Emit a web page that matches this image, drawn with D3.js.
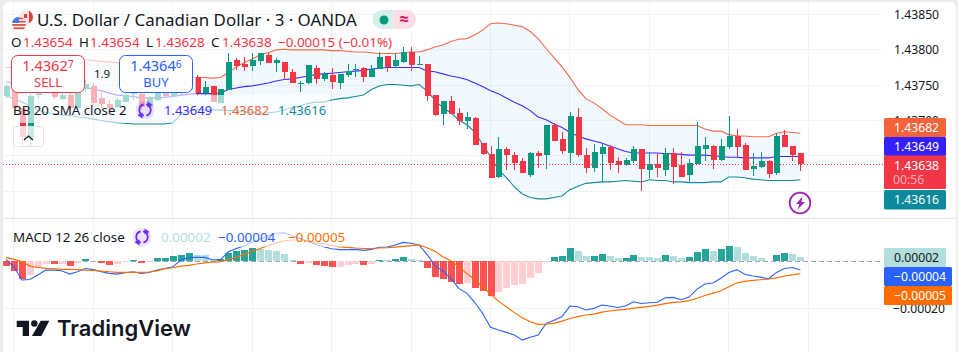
<!DOCTYPE html>
<html>
<head>
<meta charset="utf-8">
<script src="https://cdn.jsdelivr.net/npm/d3@7"></script>
<style>
  html, body { margin: 0; padding: 0; background: #ececec; overflow: hidden; }
  text { font-family: "Noto Sans", "Open Sans", sans-serif; fill: #131722; }
</style>
</head>
<body>
<div id="chart"></div>
<script>
// candles, oldest first
const open = [
  1.43735,1.43746,1.43717,1.43676,1.43735,1.43752,1.43744,1.43731,1.43736,1.43718,
  1.43744,1.43749,1.43732,1.43724,1.43719,1.43726,1.43738,1.43738,1.43719,1.43729,
  1.43739,1.43735,1.43749,1.43744,1.43762,1.43739,1.43749,1.43725,1.43744,1.43785,
  1.43780,1.43776,1.43783,1.43793,1.43782,1.43783,1.43769,1.43752,1.43752,1.43775,
  1.43759,1.43765,1.43753,1.43765,1.43772,1.43775,1.43762,1.43773,1.43792,1.43776,
  1.43783,1.43797,1.43779,1.43780,1.43736,1.43710,1.43728,1.43711,1.43700,1.43704,
  1.43668,1.43653,1.43619,1.43659,1.43651,1.43642,1.43623,1.43654,1.43651,1.43693,
  1.43674,1.43654,1.43705,1.43651,1.43633,1.43653,1.43663,1.43642,1.43637,1.43643,
  1.43659,1.43630,1.43639,1.43630,1.43654,1.43637,1.43623,1.43639,1.43661,1.43664,
  1.43644,1.43663,1.43678,1.43666,1.43632,1.43633,1.43643,1.43625,1.43680,1.43664,1.43654];
const high = [
  1.43752,1.43749,1.43718,1.43738,1.43746,1.43755,1.43746,1.43741,1.43741,1.43758,
  1.43758,1.43753,1.43739,1.43729,1.43732,1.43739,1.43746,1.43741,1.43734,1.43742,
  1.43744,1.43744,1.43752,1.43758,1.43765,1.43756,1.43749,1.43745,1.43795,1.43789,
  1.43790,1.43795,1.43796,1.43796,1.43789,1.43783,1.43773,1.43756,1.43778,1.43778,
  1.43769,1.43775,1.43766,1.43780,1.43780,1.43776,1.43779,1.43797,1.43792,1.43796,
  1.43804,1.43804,1.43792,1.43780,1.43736,1.43728,1.43734,1.43717,1.43712,1.43705,
  1.43668,1.43664,1.43677,1.43663,1.43656,1.43647,1.43656,1.43657,1.43694,1.43697,
  1.43684,1.43712,1.43717,1.43661,1.43667,1.43667,1.43666,1.43649,1.43647,1.43664,
  1.43659,1.43656,1.43654,1.43661,1.43661,1.43656,1.43646,1.43698,1.43676,1.43666,
  1.43674,1.43707,1.43688,1.43668,1.43654,1.43656,1.43644,1.43683,1.43687,1.43664,1.43654];
const low = [
  1.43732,1.43715,1.43666,1.43664,1.43732,1.43739,1.43731,1.43729,1.43715,1.43718,
  1.43741,1.43722,1.43718,1.43715,1.43718,1.43726,1.43729,1.43715,1.43718,1.43728,
  1.43732,1.43734,1.43738,1.43741,1.43734,1.43734,1.43726,1.43725,1.43744,1.43772,
  1.43770,1.43770,1.43779,1.43782,1.43768,1.43758,1.43753,1.43741,1.43751,1.43752,
  1.43756,1.43745,1.43745,1.43761,1.43762,1.43755,1.43762,1.43773,1.43769,1.43775,
  1.43782,1.43770,1.43778,1.43728,1.43707,1.43694,1.43710,1.43694,1.43688,1.43666,
  1.43651,1.43619,1.43619,1.43630,1.43630,1.43625,1.43620,1.43633,1.43632,1.43671,
  1.43653,1.43640,1.43649,1.43626,1.43627,1.43613,1.43630,1.43625,1.43636,1.43640,
  1.43600,1.43619,1.43620,1.43622,1.43610,1.43620,1.43612,1.43639,1.43642,1.43632,
  1.43642,1.43660,1.43649,1.43630,1.43622,1.43633,1.43619,1.43623,1.43663,1.43643,1.43628];
const close = [
  1.43749,1.43717,1.43676,1.43735,1.43744,1.43741,1.43732,1.43736,1.43718,1.43739,
  1.43751,1.43725,1.43724,1.43718,1.43729,1.43736,1.43739,1.43719,1.43732,1.43739,
  1.43735,1.43739,1.43741,1.43752,1.43739,1.43748,1.43726,1.43745,1.43783,1.43776,
  1.43776,1.43785,1.43795,1.43782,1.43786,1.43769,1.43753,1.43753,1.43778,1.43759,
  1.43766,1.43755,1.43766,1.43770,1.43773,1.43762,1.43773,1.43790,1.43776,1.43785,
  1.43797,1.43778,1.43780,1.43735,1.43707,1.43728,1.43710,1.43700,1.43705,1.43666,
  1.43653,1.43619,1.43659,1.43650,1.43640,1.43625,1.43654,1.43650,1.43694,1.43671,
  1.43657,1.43707,1.43651,1.43633,1.43656,1.43663,1.43640,1.43636,1.43644,1.43660,
  1.43630,1.43639,1.43634,1.43654,1.43634,1.43620,1.43640,1.43664,1.43666,1.43644,
  1.43664,1.43678,1.43663,1.43630,1.43636,1.43642,1.43625,1.43678,1.43663,1.43651,1.43638];

// bollinger bands
const bbUpper = [
  1.43775,1.43775,1.43778,1.43780,1.43783,1.43785,1.43785,1.43786,1.43786,1.43786,
  1.43786,1.43785,1.43784,1.43783,1.43782,1.43782,1.43780,1.43779,1.43776,1.43773,
  1.43770,1.43768,1.43765,1.43762,1.43761,1.43761,1.43760,1.43761,1.43768,1.43776,
  1.43782,1.43787,1.43793,1.43796,1.43800,1.43801,1.43800,1.43800,1.43800,1.43800,
  1.43800,1.43799,1.43799,1.43798,1.43797,1.43797,1.43796,1.43795,1.43795,1.43795,
  1.43796,1.43797,1.43797,1.43800,1.43804,1.43807,1.43812,1.43815,1.43816,1.43821,
  1.43828,1.43837,1.43838,1.43837,1.43835,1.43833,1.43826,1.43816,1.43802,1.43789,
  1.43776,1.43761,1.43744,1.43731,1.43725,1.43717,1.43708,1.43701,1.43694,1.43694,
  1.43694,1.43693,1.43693,1.43693,1.43693,1.43693,1.43693,1.43693,1.43688,1.43685,
  1.43685,1.43680,1.43678,1.43678,1.43677,1.43677,1.43677,1.43682,1.43684,1.43683,1.43682];
const bbBasis = [
  1.43755,1.43753,1.43752,1.43751,1.43750,1.43749,1.43748,1.43748,1.43747,1.43746,
  1.43746,1.43745,1.43742,1.43739,1.43736,1.43735,1.43734,1.43732,1.43732,1.43732,
  1.43733,1.43734,1.43736,1.43737,1.43738,1.43738,1.43738,1.43739,1.43744,1.43746,
  1.43748,1.43749,1.43751,1.43753,1.43756,1.43758,1.43759,1.43761,1.43763,1.43765,
  1.43766,1.43767,1.43768,1.43769,1.43770,1.43771,1.43773,1.43774,1.43775,1.43775,
  1.43775,1.43775,1.43775,1.43770,1.43769,1.43766,1.43763,1.43761,1.43758,1.43753,
  1.43748,1.43742,1.43738,1.43732,1.43726,1.43721,1.43714,1.43705,1.43701,1.43695,
  1.43690,1.43683,1.43678,1.43674,1.43671,1.43668,1.43664,1.43660,1.43656,1.43654,
  1.43654,1.43654,1.43654,1.43653,1.43653,1.43652,1.43651,1.43651,1.43651,1.43650,
  1.43649,1.43648,1.43648,1.43647,1.43647,1.43647,1.43647,1.43649,1.43649,1.43649,1.43649];
const bbLower = [
  1.43735,1.43731,1.43726,1.43721,1.43715,1.43711,1.43710,1.43708,1.43707,1.43705,
  1.43704,1.43702,1.43700,1.43698,1.43697,1.43696,1.43695,1.43695,1.43695,1.43695,
  1.43695,1.43697,1.43708,1.43714,1.43715,1.43715,1.43715,1.43715,1.43714,1.43714,
  1.43712,1.43711,1.43710,1.43711,1.43712,1.43715,1.43718,1.43721,1.43724,1.43726,
  1.43726,1.43729,1.43731,1.43732,1.43734,1.43736,1.43744,1.43749,1.43751,1.43751,
  1.43750,1.43749,1.43751,1.43742,1.43729,1.43718,1.43711,1.43701,1.43694,1.43684,
  1.43666,1.43649,1.43630,1.43619,1.43606,1.43596,1.43591,1.43589,1.43589,1.43591,
  1.43593,1.43602,1.43607,1.43611,1.43612,1.43613,1.43613,1.43614,1.43615,1.43614,
  1.43613,1.43616,1.43615,1.43615,1.43613,1.43613,1.43612,1.43612,1.43612,1.43613,
  1.43613,1.43620,1.43620,1.43619,1.43617,1.43616,1.43615,1.43615,1.43615,1.43615,1.43616];

// macd pane, all in units of 0.00001
const macdHist = [
  -2,-4,-7.5,-5.8,-3,-.9,-1.3,-.9,-2,-.7,
  1,.2,-.7,-1.6,-1.1,-.4,.6,-.7,-.3,1.4,
  1.4,2.1,2.7,3.5,2.7,2.6,.8,.9,3.7,4.5,
  4.8,5.5,5.45,5,4.5,3.1,.6,-1.1,-.6,-1.6,
  -2,-2.4,-2.3,-1.6,-1.1,-1.6,-1.1,.6,.5,1,
  1.8,1,.6,-2.8,-6.7,-7.5,-8.7,-9.6,-9.2,-11.3,
  -12.6,-14.8,-13,-11.3,-10,-9.6,-7.1,-5,-.3,1.8,
  2.3,5.7,4.4,2.3,2.4,3.1,2.3,1.4,1.5,2.7,
  1.8,1.7,1.4,2.7,2.3,1.4,1.8,4,5.2,4.4,
  5.2,6.5,6.1,3.5,2.3,1.4,.1,2.7,3.5,3.1,1.8];
const macdLine = [
  .85,-2.3,-7.9,-7.7,-5.8,-3.7,-3.7,-4,-5.4,-4.4,
  -3,-3.5,-4.4,-5.1,-5.4,-4.8,-4.4,-5.1,-4.7,-3.7,
  -3,-2.3,.6,1.6,1.7,1.7,.7,.7,4.1,5.5,
  6.7,8.1,9.5,10.8,12,12.2,10.9,9.8,8.4,7.2,
  6.2,5.4,5,5,5.1,4.7,5.1,6,6.1,7,
  8.1,7.7,7,3,-1.8,-4,-7.2,-11.5,-13.5,-17.4,
  -22.1,-28,-29.2,-30.2,-31.3,-33.5,-32.3,-31.3,-26.4,-25,
  -23.5,-19,-19.3,-20.7,-20,-18.6,-19,-19.6,-19,-17.2,
  -17.9,-17.6,-17.4,-15.5,-15.3,-16.3,-15.2,-11.8,-9.6,-9.2,
  -7.2,-4.7,-3.5,-5.5,-6.2,-6.7,-7.4,-4.7,-3,-2.6,-3.7];
const macdSignal = [
  1.7,.85,-.1,-2,-2.6,-3,-3.1,-3.4,-3.4,-3.5,
  -3.7,-3.8,-4.1,-4.4,-4.7,-4.7,-4.7,-4.7,-4.5,-4,
  -3.1,-2.7,-2,-1.7,-1.1,-.6,-.3,-.1,.7,1.7,
  3,4.3,5.5,6.7,7.9,8.8,9.1,9.1,8.7,7.9,
  7.5,6.8,6.2,6,5.7,5.5,5.5,5.7,5.8,6.1,
  6.4,6.7,7,5.8,4.3,2,.3,-2.3,-5.1,-7.7,
  -10.8,-14,-16.9,-19.3,-21.8,-24,-25.7,-26.8,-26.7,-26.4,
  -25.4,-24.3,-23.5,-22.8,-22.4,-21.6,-21.1,-20.7,-20.4,-19.9,
  -19.6,-19.1,-18.6,-18,-17.4,-17.2,-16.7,-15.7,-14.5,-13.5,
  -12.5,-10.8,-9.2,-8.5,-8.1,-7.8,-7.5,-7,-6.2,-5.7,-5.2];

const priceTicks = [1.4385, 1.438, 1.4375, 1.437, 1.4365, 1.436];
const timeTicks = [1, 11, 21, 31, 41, 51, 61, 71, 81, 91, 101];

const W = 958, H = 352, plotR = 883, paneY = 218;
const up = "#089981", down = "#F23645";
const indices = d3.range(close.length);

const svg = d3.select("#chart").append("svg").attr("width", W).attr("height", H).style("display", "block");
svg.append("rect").attr("x", 3).attr("y", 2).attr("width", 953).attr("height", H + 20).attr("rx", 6).attr("fill", "#fff");

const x = d3.scaleLinear().domain([0, 100]).range([6, 800.3]);
const y = d3.scaleLinear().domain([1.4385, 1.436]).range([14.6, 191.1]);
const yM = d3.scaleLinear().domain([0, -20]).range([261.4, 308.4]);

function label(g, tx, ty, str, color, size, anchor) {
    return g.append("text").attr("x", tx).attr("y", ty)
        .attr("font-size", size || 13.3).attr("text-anchor", anchor || "start")
        .style("fill", color || "#131722").text(str);
}

// grid
const grid = svg.append("g").attr("stroke", "#f0f3fa").attr("stroke-width", 1).attr("shape-rendering", "crispEdges");
grid.selectAll("line.v").data(timeTicks).join("line").attr("class", "v")
    .attr("x1", d => x(d)).attr("x2", d => x(d)).attr("y1", 2).attr("y2", H);
grid.selectAll("line.h").data(priceTicks).join("line").attr("class", "h")
    .attr("x1", 3).attr("x2", plotR).attr("y1", d => y(d)).attr("y2", d => y(d));
grid.append("line").attr("x1", 3).attr("x2", plotR).attr("y1", yM(-20)).attr("y2", yM(-20));
svg.append("line").attr("x1", 3).attr("x2", 956).attr("y1", paneY).attr("y2", paneY)
    .attr("stroke", "#e0e3eb").attr("shape-rendering", "crispEdges");

// bollinger fill and lines
const main = svg.append("g");
main.append("path").datum(indices)
    .attr("fill", "#2196f3").attr("fill-opacity", 0.06)
    .attr("d", d3.area().x(i => x(i)).y0(i => y(bbLower[i])).y1(i => y(bbUpper[i])));
[[bbUpper, "#f7694a"], [bbBasis, "#3a2cff"], [bbLower, "#138a9a"]].forEach(([vals, color]) => {
    main.append("path").datum(indices).attr("fill", "none").attr("stroke", color).attr("stroke-width", 1.1)
        .attr("d", d3.line().x(i => x(i)).y(i => y(vals[i])));
});

// candles
const candle = main.selectAll("g.candle").data(indices).join("g").attr("class", "candle")
    .attr("fill", i => close[i] >= open[i] ? up : down).attr("shape-rendering", "crispEdges");
candle.append("rect").attr("x", i => Math.round(x(i))).attr("width", 1)
    .attr("y", i => y(high[i])).attr("height", i => y(low[i]) - y(high[i]));
candle.append("rect").attr("x", i => Math.round(x(i)) - 2.500).attr("width", 6)
    .attr("y", i => Math.round(y(Math.max(open[i], close[i]))))
    .attr("height", i => Math.max(1, Math.round(Math.abs(y(open[i]) - y(close[i])))));

// last price line
const lastPrice = close[close.length - 1];
main.append("line").attr("x1", 3).attr("x2", plotR).attr("y1", y(lastPrice)).attr("y2", y(lastPrice))
    .attr("stroke", down).attr("stroke-dasharray", "1,2").attr("shape-rendering", "crispEdges");

// macd pane
const macd = svg.append("g");
macd.append("line").attr("x1", 3).attr("x2", plotR).attr("y1", yM(0)).attr("y2", yM(0))
    .attr("stroke", "#a3a6af").attr("stroke-dasharray", "5,3").attr("shape-rendering", "crispEdges");
macd.selectAll("rect").data(indices).join("rect")
    .attr("x", i => Math.round(x(i)) - 3).attr("width", 7)
    .attr("y", i => Math.min(yM(macdHist[i]), yM(0)))
    .attr("height", i => Math.abs(yM(macdHist[i]) - yM(0)))
    .attr("shape-rendering", "crispEdges")
    .attr("fill", i => {
        const v = macdHist[i], prev = i ? macdHist[i - 1] : 0;
        if (v >= 0) return v >= prev ? "#26a69a" : "#b2dfdb";
        return v < prev ? "#ff5252" : "#ffcdd2";
    });
macd.append("path").datum(indices).attr("fill", "none").attr("stroke", "#2962ff").attr("stroke-width", 1.1)
    .attr("d", d3.line().x(i => x(i)).y(i => yM(macdLine[i])));
macd.append("path").datum(indices).attr("fill", "none").attr("stroke", "#ff6d00").attr("stroke-width", 1.2)
    .attr("d", d3.line().x(i => x(i)).y(i => yM(macdSignal[i])));

// white veil the legends put over the plot
const veil = svg.append("g").attr("fill", "#fff").attr("fill-opacity", 0.62);
veil.append("rect").attr("x", 3).attr("y", 50).attr("width", 193).attr("height", 45);
veil.append("rect").attr("x", 3).attr("y", 95).attr("width", 327).attr("height", 28);
veil.append("rect").attr("x", 3).attr("y", 228).attr("width", 340).attr("height", 19);

// price axis
const axisG = svg.append("g").attr("transform", `translate(${plotR},0)`)
    .call(d3.axisRight(y).tickValues(priceTicks.slice(0, 4)).tickSize(0).tickPadding(11).tickFormat(d3.format(".5f")));
const axisM = svg.append("g").attr("transform", `translate(${plotR},0)`)
    .call(d3.axisRight(yM).tickValues([-20]).tickSize(0).tickPadding(10).tickFormat(d => "\u22120.00020"));
[axisG, axisM].forEach(g => {
    g.select(".domain").remove();
    g.selectAll("text").attr("font-size", 12.2).attr("font-family", null).style("fill", "#131722");
});

// price tags on the axis
const tags = [
    [884, 118, 62, 19.5, "#f4633a", "1.43682", "#fff"],
    [884, 137, 62, 19, "#3420ff", "1.43649", "#fff"],
    [884, 155.5, 62, 33.5, down, "1.43638", "#fff"],
    [884, 190, 62, 19.5, "#0b8a9b", "1.43616", "#fff"],
    [884, 248, 62, 19, "#b2dfdb", "0.00002", "#131722"],
    [884, 267, 68, 19, "#2962ff", "\u22120.00004", "#fff"],
    [884, 286, 68, 19, "#ff6d00", "\u22120.00005", "#fff"]
];
const tagG = svg.append("g");
tags.forEach(([tx, ty, tw, th, color, str, ink]) => {
    tagG.append("rect").attr("x", tx).attr("y", ty).attr("width", tw).attr("height", th).attr("rx", 1.5).attr("fill", color);
    label(tagG, tx + 10, ty + 14, str, ink, 12.2);
});
label(tagG, 893, 184, "00:56", "#fbb0b8", 12.2);

// legend header
const legend = svg.append("g");
const defs = svg.append("defs");
defs.append("clipPath").attr("id", "flagCa").append("circle").attr("cx", 26).attr("cy", 17).attr("r", 7);
defs.append("clipPath").attr("id", "flagUs").append("circle").attr("cx", 19).attr("cy", 24).attr("r", 7);
const ca = legend.append("g").attr("clip-path", "url(#flagCa)");
ca.append("rect").attr("x", 19).attr("y", 10).attr("width", 14).attr("height", 14).attr("fill", "#f7e6e4");
ca.append("rect").attr("x", 29).attr("y", 10).attr("width", 4).attr("height", 14).attr("fill", "#e8403a");
ca.append("rect").attr("x", 24).attr("y", 14).attr("width", 3).attr("height", 4).attr("fill", "#e8403a");
const us = legend.append("g").attr("clip-path", "url(#flagUs)");
us.append("circle").attr("cx", 19).attr("cy", 24).attr("r", 7).attr("fill", "#fff");
d3.range(4).forEach(i => us.append("rect").attr("x", 12).attr("y", 17.5 + i * 3.3).attr("width", 14).attr("height", 1.7).attr("fill", "#e8403a"));
us.append("rect").attr("x", 12).attr("y", 17).attr("width", 7).attr("height", 6).attr("fill", "#3c7ff0");

label(legend, 37, 26, "U.S. Dollar / Canadian Dollar \u00b7 3 \u00b7 OANDA", "#131722", 16.9);

// status pill
legend.append("path").attr("d", "M382 10h11v19h-11a9.5 9.5 0 0 1 0-19z").attr("fill", "#d5efeb");
legend.append("path").attr("d", "M393.500 10h13a9.5 9.5 0 0 1 0 19h-13z").attr("fill", "#fbdde6");
legend.append("circle").attr("cx", 384).attr("cy", 20).attr("r", 4.500).attr("fill", up);
label(legend, 404, 25, "\u2248", "#d81b60", 17, "middle").attr("font-weight", 700);

// ohlc row
const ohlc = [[11, "O"], [79, "H"], [146, "L"], [211, "C"]];
const ohlcVals = [[23, "1.43654"], [90, "1.43654"], [155, "1.43628"], [222, "1.43638"], [278, "\u22120.00015 (\u22120.01%)"]];
ohlc.forEach(([tx, s]) => label(legend, tx, 47, s, "#131722", 13.4));
ohlcVals.forEach(([tx, s]) => label(legend, tx, 47, s, down, 13.4));

// buy and sell boxes
function tradeBox(bx, color, price, small, word) {
    legend.append("rect").attr("x", bx + 0.5).attr("y", 55.500).attr("width", 73).attr("height", 37)
        .attr("rx", 6).attr("fill", "#fff").attr("stroke", color);
    const t = label(legend, bx + 37, 71, price, color, 14.6, "middle");
    t.append("tspan").attr("font-size", 10.500).attr("dy", -3).text(small);
    label(legend, bx + 37, 86.500, word, color, 13, "middle");
}
tradeBox(11, down, "1.4362", "7", "SELL");
tradeBox(119, "#2962ff", "1.4364", "6", "BUY");
label(legend, 102, 78, "1.9", "#131722", 11.500, "middle");

// little reload badge next to the studies
function reloadIcon(cx, cy, r) {
    const g = legend.append("g").attr("transform", `translate(${cx},${cy})`);
    g.append("circle").attr("r", r).attr("fill", "#7c3cf0").attr("fill-opacity", 0.14);
    const arc = d3.arc().innerRadius(4.8).outerRadius(6.600);
    g.append("path").attr("fill", "#6a2cf0").attr("d", arc({ startAngle: 0.2, endAngle: 2.9 }));
    g.append("path").attr("fill", "#6a2cf0").attr("d", arc({ startAngle: 3.34, endAngle: 6.05 }));
    g.append("path").attr("fill", "#6a2cf0").attr("d", "M2.500-8.500l5 3.500-5 2.500z");
    g.append("path").attr("fill", "#6a2cf0").attr("d", "M-2.500 8.500l-5-3.500 5-2.500z");
}

// bb row
label(legend, 13, 115, "BB 20 SMA close 2");
reloadIcon(145, 110, 9.500);
label(legend, 164, 115, "1.43649", "#3a2cff", 13);
label(legend, 221, 115, "1.43682", "#f4633a", 13);
label(legend, 278, 115, "1.43616", "#138a9a", 13);

// collapse button
legend.append("rect").attr("x", 13.500).attr("y", 126.500).attr("width", 30).attr("height", 20).attr("rx", 3)
    .attr("fill", "#fff").attr("fill-opacity", 0.8).attr("stroke", "#e0e3eb");
legend.append("path").attr("d", "M24 140l4.500-4 4.500 4").attr("fill", "none").attr("stroke", "#131722").attr("stroke-width", 1.3);

// macd row
label(legend, 13, 242, "MACD 12 26 close", "#131722", 13.4);
reloadIcon(142, 237, 9.500);
label(legend, 161, 242, "0.00002", "#b2dfdb", 13.4);
label(legend, 218, 242, "\u22120.00004", "#2962ff", 13.4);
label(legend, 288, 242, "\u22120.00005", "#ff6d00", 13.4);

// lightning badge
const bolt = legend.append("g").attr("transform", "translate(800,203)");
bolt.append("circle").attr("r", 10.300).attr("fill", "#fff").attr("stroke", "#9c27b0").attr("stroke-width", 1.8);
bolt.append("path").attr("fill", "#9c27b0").attr("d", "M2.500-6.500L-4 1h3.500l-2 5.500L5-1H1.500z");

// logo
const logo = svg.append("g").attr("fill", "#131722");
logo.append("path").attr("d", "M16.700 320.700H29V336H22.700V327H16.700Z");
logo.append("circle").attr("cx", 34.300).attr("cy", 323.500).attr("r", 3.200);
logo.append("path").attr("d", "M40.700 320.700H49.300L41.300 336H32Z");
label(logo, 57, 336, "TradingView", "#131722", 22).attr("font-weight", 600).style("font-family", "Inter");
</script>
</body>
</html>
